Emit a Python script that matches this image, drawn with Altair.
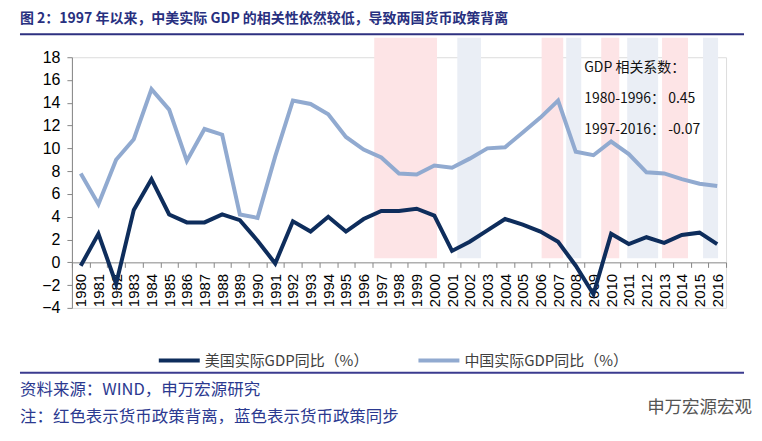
import altair as alt
import pandas as pd

YEARS = list(range(1980, 2017))
US_GDP = [-0.3, 2.5, -1.9, 4.6, 7.3, 4.2, 3.5, 3.5, 4.2, 3.7, 1.9, -0.1, 3.6, 2.7, 4.0, 2.7, 3.8,
          4.5, 4.5, 4.7, 4.1, 1.0, 1.8, 2.8, 3.8, 3.3, 2.7, 1.8, -0.3, -2.8, 2.5, 1.6, 2.2, 1.7,
          2.4, 2.6, 1.6]
CN_GDP = [7.8, 5.1, 9.0, 10.8, 15.2, 13.4, 8.9, 11.7, 11.2, 4.2, 3.9, 9.3, 14.2, 13.9, 13.0, 11.0,
          9.9, 9.2, 7.8, 7.7, 8.5, 8.3, 9.1, 10.0, 10.1, 11.4, 12.7, 14.2, 9.7, 9.4, 10.6, 9.5,
          7.9, 7.8, 7.3, 6.9, 6.7]
SERIES = ["美国实际GDP同比（%）", "中国实际GDP同比（%）"]
COLORS = ["#0e2d5c", "#91aad0"]

SHADE_START = [1996.6, 2001.3, 2006.07, 2007.46, 2009.44, 2010.91, 2012.88, 2015.2]
SHADE_END = [2000.15, 2002.64, 2007.29, 2008.31, 2010.46, 2012.66, 2014.35, 2016.05]
SHADE_KIND = ["背离", "同步", "背离", "同步", "背离", "同步", "背离", "同步"]
SHADE_COLORS = ["#fde4e6", "#eaeef5"]

TITLE = "图 2：1997 年以来，中美实际 GDP 的相关性依然较低，导致两国货币政策背离"
NOTE_LINES = ["GDP 相关系数：", "1980-1996：  0.45", "1997-2016：  -0.07"]
SOURCE = "资料来源：WIND，申万宏源研究"
FOOTNOTE = "注：红色表示货币政策背离，蓝色表示货币政策同步"
WATERMARK = "申万宏源宏观"

lines_df = pd.DataFrame({
    "year": YEARS * 2,
    "value": US_GDP + CN_GDP,
    "series": [SERIES[0]] * len(YEARS) + [SERIES[1]] * len(YEARS),
})
shade_df = pd.DataFrame({"x": SHADE_START, "x2": SHADE_END, "kind": SHADE_KIND})

W, H = 655, 251
CJK = "Noto Sans CJK SC"
bounds = [y - 0.5 for y in YEARS] + [YEARS[-1] + 0.5]

xscale = alt.Scale(domain=[1979.5, 2016.5], nice=False, zero=False)
yscale = alt.Scale(domain=[-4, 18], nice=False, zero=False)

xaxis_ticks = alt.Axis(orient="bottom", values=bounds, offset=-45.6, labels=False, tickSize=5,
                       domainColor="#868686", tickColor="#868686", grid=False, title=None)
xaxis_labels = alt.Axis(orient="bottom", values=YEARS, offset=-45.6, labelAngle=-90, labelFontSize=15,
                        labelFont="Liberation Sans", labelColor="#000", labelPadding=11,
                        format="d", ticks=False, domain=False, grid=False, labelOverlap=False,
                        labelBound=False, labelFlush=False, title=None)
yaxis = alt.Axis(values=list(range(-4, 19, 2)), labelFontSize=16, labelFont="Liberation Sans",
                 labelColor="#000", labelPadding=7, tickSize=5, domainColor="#868686",
                 tickColor="#868686", grid=False, title=None, labelOverlap=False)

shade = alt.Chart(shade_df).mark_rect().encode(
    x=alt.X("x:Q", scale=xscale, axis=xaxis_ticks, title=None),
    x2="x2:Q",
    y=alt.Y(datum=0.35, scale=yscale, axis=yaxis, title=None),
    y2=alt.datum(19.7),
    fill=alt.Fill("kind:N", scale=alt.Scale(domain=["背离", "同步"], range=SHADE_COLORS), legend=None),
)

lines = alt.Chart(lines_df).mark_line(strokeWidth=4).encode(
    x=alt.X("year:Q", scale=xscale, title=None, axis=xaxis_labels),
    y=alt.Y("value:Q", scale=yscale, title=None, axis=yaxis),
    color=alt.Color("series:N", scale=alt.Scale(domain=SERIES, range=COLORS), sort=SERIES,
                    legend=alt.Legend(title=None, orient="none", direction="horizontal",
                                      legendX=85, legendY=281, symbolType="stroke",
                                      symbolSize=1681, symbolStrokeWidth=4, labelFont=CJK,
                                      labelFontSize=15, labelColor="#404040", labelOffset=3,
                                      labelLimit=400, columnPadding=42)),
)


def txt(s, x, y, size, color, weight="normal", font=CJK, align="left"):
    return alt.Chart(alt.Data(values=[{"t": s}])).mark_text(
        align=align, baseline="middle", fontSize=size, color=color, fontWeight=weight, font=font
    ).encode(text="t:N", x=alt.value(x), y=alt.value(y))


def hline(x1, x2, y, color, w):
    return alt.Chart(alt.Data(values=[{}])).mark_rule(color=color, strokeWidth=w).encode(
        x=alt.value(x1), x2=alt.value(x2), y=alt.value(y))


title = txt(TITLE, -52, -38, 14, "#28307f", weight="bold")
underline = hline(-52, 673, -23, "#2e3180", 2)
notes = [txt(s, 513, yy, 14, "#111") for s, yy in zip(NOTE_LINES, [11, 42, 73])]
footer_line = hline(-52, 673, 316, "#3b3b8f", 2)
src = txt(SOURCE, -52, 333, 16.5, "#2b3990")
fn = txt(FOOTNOTE, -52, 360, 16.5, "#2b3990")
wm = txt(WATERMARK, 576, 351, 17.5, "#555")

chart = alt.layer(shade, lines, title, underline, *notes, footer_line, src, fn, wm).resolve_axis(
    x="independent"
).properties(
    width=W, height=H,
    autosize=alt.AutoSizeParams(type="none"),
    padding={"left": 64, "top": 49, "right": 28, "bottom": 126},
).configure_view(stroke=None).configure(background="white")

chart.save("out.html", embed_options={"renderer": "svg", "actions": False})
